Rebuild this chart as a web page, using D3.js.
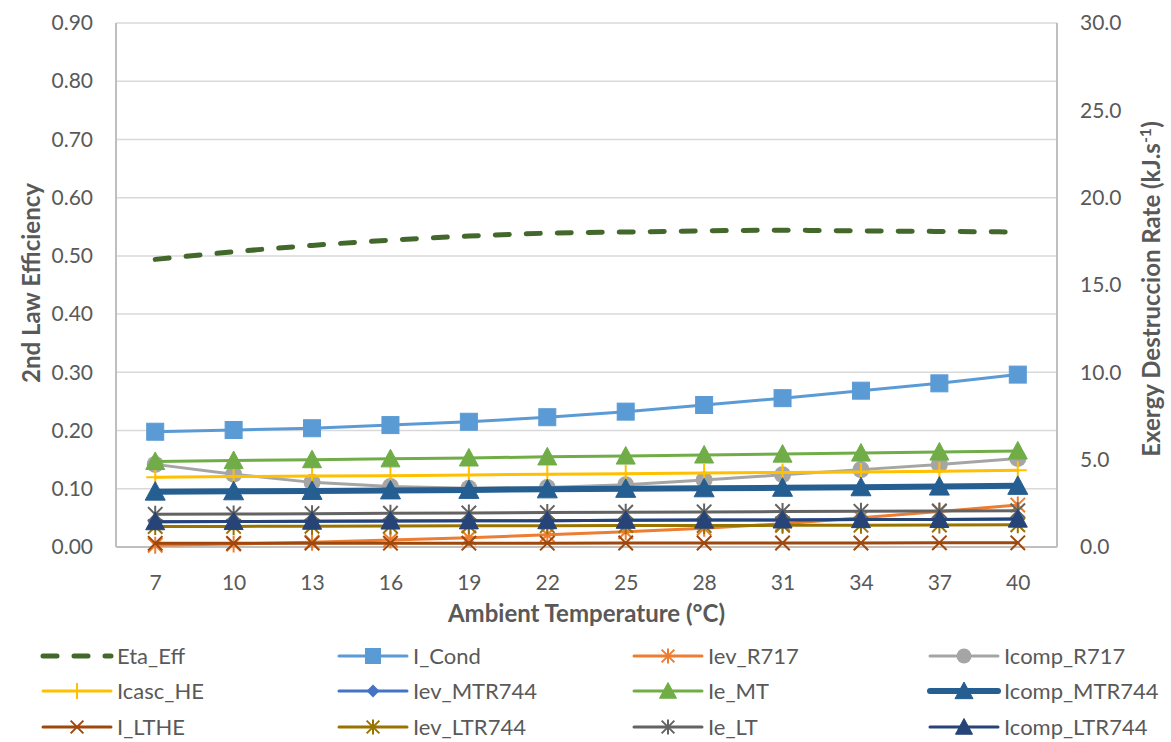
<html>
<head>
<script src="https://d3js.org/d3.v7.min.js"></script>
<style>
  body { margin: 0; background: #fff; }
  text { font-family: Lato, "Open Sans", sans-serif; fill: #595959; }
</style>
</head>
<body>
<div id="chart"></div>
<script>
// ambient temperature categories (°C)
const temps = [7, 10, 13, 16, 19, 22, 25, 28, 31, 34, 37, 40];
const yLeftTicks = [0, 0.1, 0.2, 0.3, 0.4, 0.5, 0.6, 0.7, 0.8, 0.9];
const yRightTicks = [0, 5, 10, 15, 20, 25, 30];

// left axis series
const etaEff = [0.494, 0.507, 0.518, 0.527, 0.534, 0.539, 0.541, 0.543, 0.544, 0.543, 0.542, 0.541];

// right axis series (kJ/s)
const iCond       = [6.60, 6.70, 6.80, 6.98, 7.17, 7.43, 7.75, 8.13, 8.52, 8.95, 9.37, 9.87];
const ievR717     = [0.10, 0.17, 0.27, 0.40, 0.53, 0.70, 0.87, 1.07, 1.33, 1.67, 2.03, 2.40];
const icompR717   = [4.73, 4.17, 3.70, 3.47, 3.37, 3.40, 3.57, 3.83, 4.13, 4.43, 4.73, 5.07];
const icascHE     = [4.00, 4.03, 4.07, 4.08, 4.12, 4.17, 4.20, 4.23, 4.27, 4.30, 4.33, 4.40];
const ievMTR744   = [1.45, 1.46, 1.48, 1.49, 1.50, 1.51, 1.53, 1.54, 1.55, 1.57, 1.58, 1.60];
const ieMT        = [4.90, 4.95, 5.00, 5.05, 5.10, 5.16, 5.21, 5.27, 5.32, 5.38, 5.44, 5.50];
const icompMTR744 = [3.17, 3.19, 3.21, 3.24, 3.27, 3.30, 3.33, 3.36, 3.39, 3.42, 3.46, 3.50];
const iLTHE       = [0.21, 0.21, 0.22, 0.22, 0.22, 0.22, 0.23, 0.23, 0.23, 0.23, 0.24, 0.24];
const ievLTR744   = [1.17, 1.18, 1.19, 1.20, 1.21, 1.22, 1.23, 1.23, 1.24, 1.25, 1.26, 1.27];
const ieLT        = [1.87, 1.89, 1.91, 1.93, 1.95, 1.97, 1.99, 2.01, 2.03, 2.04, 2.06, 2.08];
const icompLTR744 = [1.45, 1.46, 1.48, 1.49, 1.50, 1.51, 1.53, 1.54, 1.55, 1.57, 1.58, 1.60];

const series = [
  { name: "Eta_Eff", values: etaEff, axis: "L", color: "#43682b", width: 5, dash: "14,17", marker: null },
  { name: "I_Cond", values: iCond, axis: "R", color: "#5b9bd5", width: 3, marker: "square", size: 17 },
  { name: "Iev_R717", values: ievR717, axis: "R", color: "#ed7d31", width: 3, marker: "asterisk", size: 17 },
  { name: "Icomp_R717", values: icompR717, axis: "R", color: "#a5a5a5", width: 3, marker: "circle", size: 17 },
  { name: "Icasc_HE", values: icascHE, axis: "R", color: "#ffc000", width: 3, marker: "plus", size: 18 },
  { name: "Iev_MTR744", values: ievMTR744, axis: "R", color: "#4472c4", width: 3, marker: "diamond", size: 15 },
  { name: "Ie_MT", values: ieMT, axis: "R", color: "#70ad47", width: 3, marker: "triangle", size: 19 },
  { name: "Icomp_MTR744", values: icompMTR744, axis: "R", color: "#255e91", width: 6, marker: "triangle", size: 20 },
  { name: "I_LTHE", values: iLTHE, axis: "R", color: "#9e480e", width: 3, marker: "x", size: 17 },
  { name: "Iev_LTR744", values: ievLTR744, axis: "R", color: "#997300", width: 3, marker: "asterisk", size: 17 },
  { name: "Ie_LT", values: ieLT, axis: "R", color: "#636363", width: 3, marker: "asterisk", size: 17 },
  { name: "Icomp_LTR744", values: icompLTR744, axis: "R", color: "#264478", width: 3, marker: "triangle", size: 19 }
];

const W = 1171, H = 742;
const plot = { left: 116, right: 1057, top: 23, bottom: 547 };

const svg = d3.select("#chart").append("svg")
  .attr("width", W).attr("height", H);

const x = d3.scalePoint()
  .domain(temps)
  .range([plot.left, plot.right])
  .padding(0.5);

const yL = d3.scaleLinear().domain([0, 0.9]).range([plot.bottom, plot.top]);
const yR = d3.scaleLinear().domain([0, 30]).range([plot.bottom, plot.top]);

// gridlines
svg.append("g")
  .selectAll("line")
  .data(yLeftTicks)
  .enter().append("line")
  .attr("x1", plot.left).attr("x2", plot.right)
  .attr("y1", d => yL(d)).attr("y2", d => yL(d))
  .attr("stroke", "#d9d9d9").attr("stroke-width", 1.5);

// axes
const axisL = svg.append("g")
  .attr("transform", "translate(" + plot.left + ",0)")
  .call(d3.axisLeft(yL).tickValues(yLeftTicks).tickFormat(d3.format(".2f")).tickSize(0).tickPadding(23));
const axisR = svg.append("g")
  .attr("transform", "translate(" + plot.right + ",0)")
  .call(d3.axisRight(yR).tickValues(yRightTicks).tickFormat(d3.format(".1f")).tickSize(0).tickPadding(23));
const axisB = svg.append("g")
  .attr("transform", "translate(0," + plot.bottom + ")")
  .call(d3.axisBottom(x).tickSize(0).tickPadding(28));

[axisL, axisR, axisB].forEach(g => {
  g.select(".domain").attr("stroke", "#bfbfbf").attr("stroke-width", 2);
  g.selectAll("text").style("font-size", "21px").attr("fill", "#595959");
});
axisB.select(".domain").attr("d", "M" + plot.left + ",0H" + plot.right);
axisL.select(".domain").attr("d", "M0," + plot.top + "V" + plot.bottom);
axisR.select(".domain").attr("d", "M0," + plot.top + "V" + plot.bottom);

// axis titles
svg.append("text")
  .attr("transform", "translate(40," + ((plot.top + plot.bottom) / 2 - 2) + ") rotate(-90)")
  .attr("text-anchor", "middle")
  .style("font-size", "24px").style("font-weight", "bold")
  .text("2nd Law Efficiency");

const rt = svg.append("text")
  .attr("transform", "translate(1160," + ((plot.top + plot.bottom) / 2 + 4) + ") rotate(-90)")
  .attr("text-anchor", "middle")
  .style("font-size", "24px").style("font-weight", "bold");
rt.append("tspan").text("Exergy Destruccion Rate (kJ.s");
rt.append("tspan").attr("baseline-shift", "super").style("font-size", "16px").text("-1");
rt.append("tspan").text(")");

svg.append("text")
  .attr("x", (plot.left + plot.right) / 2).attr("y", 622)
  .attr("text-anchor", "middle")
  .style("font-size", "24px").style("font-weight", "bold")
  .text("Ambient Temperature (°C)");

// marker drawing
function drawMarker(g, type, cx, cy, s, color) {
  const h = s / 2;
  if (type === "square") {
    g.append("rect").attr("x", cx - h).attr("y", cy - h).attr("width", s).attr("height", s)
      .attr("fill", color).attr("stroke", color).attr("stroke-width", 1);
  } else if (type === "circle") {
    g.append("circle").attr("cx", cx).attr("cy", cy).attr("r", h).attr("fill", color);
  } else if (type === "triangle") {
    g.append("path")
      .attr("d", "M" + cx + "," + (cy - h) + "L" + (cx + h) + "," + (cy + h * 0.85) + "L" + (cx - h) + "," + (cy + h * 0.85) + "Z")
      .attr("fill", color).attr("stroke", color).attr("stroke-width", 1);
  } else if (type === "diamond") {
    g.append("path")
      .attr("d", "M" + cx + "," + (cy - h) + "L" + (cx + h) + "," + cy + "L" + cx + "," + (cy + h) + "L" + (cx - h) + "," + cy + "Z")
      .attr("fill", color);
  } else {
    let d = "";
    if (type === "plus" || type === "asterisk") d += "M" + cx + "," + (cy - h) + "V" + (cy + h);
    if (type === "plus") d += "M" + (cx - h) + "," + cy + "H" + (cx + h);
    if (type === "x" || type === "asterisk") {
      const k = h * 0.85;
      d += "M" + (cx - k) + "," + (cy - k) + "L" + (cx + k) + "," + (cy + k);
      d += "M" + (cx - k) + "," + (cy + k) + "L" + (cx + k) + "," + (cy - k);
    }
    g.append("path").attr("d", d).attr("fill", "none").attr("stroke", color).attr("stroke-width", 2);
  }
}

// series
series.forEach(s => {
  const y = s.axis === "L" ? yL : yR;
  const line = d3.line()
    .x((d, i) => x(temps[i]))
    .y(d => y(d))
    .curve(s.dash ? d3.curveMonotoneX : d3.curveLinear);
  const g = svg.append("g");
  g.append("path")
    .datum(s.values)
    .attr("d", line)
    .attr("fill", "none")
    .attr("stroke", s.color)
    .attr("stroke-width", s.width)
    .attr("stroke-linecap", "round")
    .attr("stroke-linejoin", "round")
    .attr("stroke-dasharray", s.dash || null);
  if (s.marker) {
    s.values.forEach((v, i) => drawMarker(g, s.marker, x(temps[i]), y(v), s.size, s.color));
  }
});

// legend
const legCols = [41, 337, 632, 928];
const legRows = [656, 691, 727];
series.forEach((s, i) => {
  const lx = legCols[i % 4], ly = legRows[Math.floor(i / 4)];
  const g = svg.append("g");
  g.append("line")
    .attr("x1", lx + 2).attr("x2", lx + 70).attr("y1", ly).attr("y2", ly)
    .attr("stroke", s.color).attr("stroke-width", s.width)
    .attr("stroke-linecap", "round")
    .attr("stroke-dasharray", s.dash || null);
  if (s.marker) drawMarker(g, s.marker, lx + 36, ly, s.size - 2, s.color);
  g.append("text")
    .attr("x", lx + 76).attr("y", ly).attr("dy", "0.35em")
    .style("font-size", "22px")
    .text(s.name);
});
</script>
</body>
</html>
